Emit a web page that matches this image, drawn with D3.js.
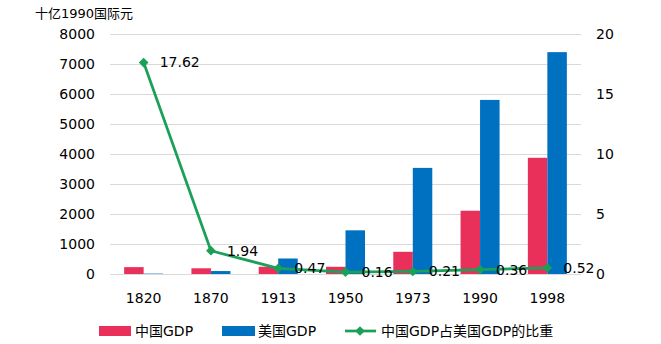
<!DOCTYPE html>
<html><head><meta charset="utf-8">
<script src="https://cdn.jsdelivr.net/npm/d3@7"></script>
<style>body{margin:0;background:#fff}svg{display:block}text{font-family:"DejaVu Sans","Noto Sans CJK SC",sans-serif;fill:#000}</style>
</head><body><svg id="c" width="661" height="344"></svg>
<script>
const years = ["1820","1870","1913","1950","1973","1990","1998"];
const chinaGDP = [229, 190, 241, 240, 740, 2109, 3873];
const usGDP = [13, 98, 517, 1456, 3537, 5803, 7395];
const ratio = [17.62, 1.94, 0.47, 0.16, 0.21, 0.36, 0.52];
const ratioLabels = ["17.62","1.94","0.47","0.16","0.21","0.36","0.52"];
const leftTicks = [0,1000,2000,3000,4000,5000,6000,7000,8000];
const rightTicks = [0,5,10,15,20];
const seriesNames = ["中国GDP","美国GDP","中国GDP占美国GDP的比重"];
const colors = {cn:"#E8305A", us:"#0070C0", ratio:"#1BA05A"};

const svg = d3.select("#c");
const L=110, R=581, T=34, B=274;
const x = d3.scaleBand().domain(years).range([L,R]).padding(0);
const yL = d3.scaleLinear().domain([0,8000]).range([B,T]);
const yR = d3.scaleLinear().domain([0,20]).range([B,T]);
const groupW = 39;
const x1 = d3.scaleBand().domain(["cn","us"]).range([0,groupW]);
const FS = "14px";

// gridlines
svg.append("g").selectAll("line").data(leftTicks).join("line")
  .attr("x1",L).attr("x2",R).attr("y1",d=>yL(d)+0.5).attr("y2",d=>yL(d)+0.5)
  .attr("stroke","#d9d9d9").attr("stroke-width",1);

// left axis
const gl = svg.append("g").attr("transform",`translate(${L-15},0)`)
  .call(d3.axisLeft(yL).tickValues(leftTicks).tickFormat(d3.format("d")).tickSize(0).tickPadding(0));
gl.select(".domain").remove();
gl.selectAll("text").style("font-size",FS).attr("dy","0.35em");

// right axis
const gr = svg.append("g").attr("transform",`translate(${R+15},0)`)
  .call(d3.axisRight(yR).tickValues(rightTicks).tickFormat(d3.format("d")).tickSize(0).tickPadding(0));
gr.select(".domain").remove();
gr.selectAll("text").style("font-size",FS).attr("dy","0.35em");

// x axis
const gx = svg.append("g").attr("transform",`translate(0,${B})`)
  .call(d3.axisBottom(x).tickSize(0).tickPadding(19));
gx.select(".domain").remove();
gx.selectAll("text").style("font-size",FS);

// bars
const bars = years.map((y,i)=>({y, cn:chinaGDP[i], us:usGDP[i]}));
const g = svg.append("g");
["cn","us"].forEach(k=>{
  g.selectAll("rect."+k).data(bars).join("rect").attr("class",k)
    .attr("x",d=>x(d.y)+(x.bandwidth()-groupW)/2+x1(k))
    .attr("width",x1.bandwidth())
    .attr("y",d=>yL(d[k]))
    .attr("height",d=>B-yL(d[k]))
    .attr("fill",colors[k]);
});

// line
const cx = d=>x(d)+x.bandwidth()/2;
const pts = years.map((y,i)=>[cx(y), yR(ratio[i])]);
svg.append("path").attr("d",d3.line()(pts)).attr("fill","none")
  .attr("stroke",colors.ratio).attr("stroke-width",2.75).attr("stroke-linejoin","round");
const diamond = d3.symbol().type(d3.symbolDiamond2).size(60);
svg.append("g").selectAll("path").data(pts).join("path")
  .attr("transform",d=>`translate(${d[0]},${d[1]})`).attr("d",diamond).attr("fill",colors.ratio);
svg.append("g").selectAll("text").data(pts).join("text")
  .attr("x",d=>d[0]+16).attr("y",d=>d[1]).attr("dy","0.35em")
  .style("font-size",FS).text((d,i)=>ratioLabels[i]);

// y title
svg.append("text").attr("x",35).attr("y",18).style("font-size","13px").text("十亿1990国际元");

// legend
const ly = 331;
svg.append("rect").attr("x",99).attr("y",ly-5).attr("width",32).attr("height",10).attr("fill",colors.cn);
svg.append("text").attr("x",135).attr("y",ly).attr("dy","0.35em").style("font-size",FS).text(seriesNames[0]);
svg.append("rect").attr("x",222).attr("y",ly-5).attr("width",33).attr("height",10).attr("fill",colors.us);
svg.append("text").attr("x",258).attr("y",ly).attr("dy","0.35em").style("font-size",FS).text(seriesNames[1]);
svg.append("line").attr("x1",345).attr("x2",376).attr("y1",ly).attr("y2",ly).attr("stroke",colors.ratio).attr("stroke-width",2.75);
svg.append("path").attr("transform",`translate(360,${ly})`).attr("d",diamond).attr("fill",colors.ratio);
svg.append("text").attr("x",381).attr("y",ly).attr("dy","0.35em").style("font-size",FS).text(seriesNames[2]);
</script></body></html>
